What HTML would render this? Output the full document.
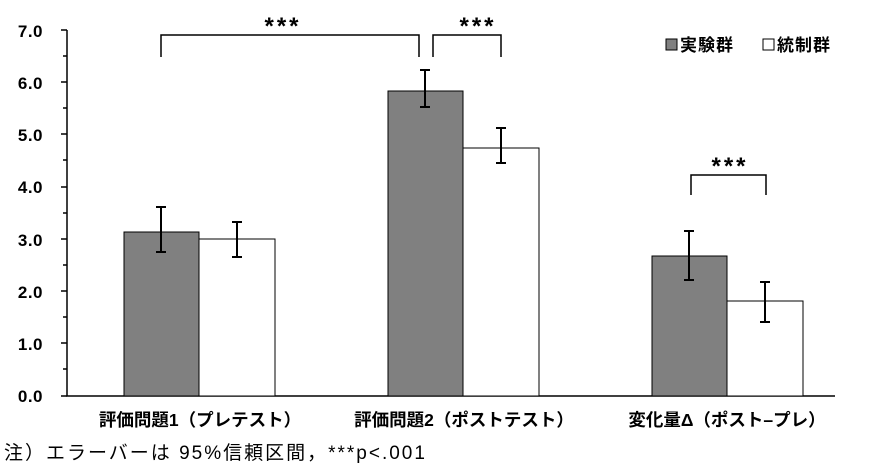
<!DOCTYPE html><html><head><meta charset="utf-8"><style>body{margin:0;background:#fff}svg{display:block}text{font-family:"Liberation Sans","Noto Sans CJK JP",sans-serif}</style></head><body>
<svg width="870" height="470" xmlns="http://www.w3.org/2000/svg">
<g font-size="17" font-weight="bold" text-anchor="end" fill="#000" letter-spacing="0.5">
<text x="43" y="37">7.0</text><text x="43" y="89">6.0</text><text x="43" y="141">5.0</text><text x="43" y="193">4.0</text><text x="43" y="246">3.0</text><text x="43" y="298">2.0</text><text x="43" y="350">1.0</text><text x="43" y="402">0.0</text></g>
<g stroke="#000" stroke-width="1.5" fill="none">
<path d="M67 30V396H835"/>
<path d="M61 30H67M61 82H67M61 134H67M61 187H67M61 239H67M61 291H67M61 343H67M61 396H67"/>
<path d="M63 56H67M63 108H67M63 160H67M63 213H67M63 265H67M63 317H67M63 369H67"/>
</g>
<g stroke="#000" stroke-width="1">
<rect x="124" y="232" width="75" height="164" fill="#808080"/>
<rect x="199" y="239" width="76" height="157" fill="#fff"/>
<rect x="388" y="91" width="75" height="305" fill="#808080"/>
<rect x="463" y="148" width="76" height="248" fill="#fff"/>
<rect x="652" y="256" width="75" height="140" fill="#808080"/>
<rect x="727" y="301" width="76" height="95" fill="#fff"/>
</g>
<g stroke="#000" stroke-width="2" fill="none">
<path d="M161 207V252M156 207H166M156 252H166"/>
<path d="M237 222V257M232 222H242M232 257H242"/>
<path d="M425 70V107M420 70H430M420 107H430"/>
<path d="M501 128V163M496 128H506M496 163H506"/>
<path d="M689 231V280M684 231H694M684 280H694"/>
<path d="M765 282V322M760 282H770M760 322H770"/>
</g>
<g stroke="#000" stroke-width="1.5" fill="none">
<path d="M161 57V35H419V57"/>
<path d="M433 57V35H501V57"/>
<path d="M691 195V175H766V195"/>
</g>
<g font-size="24" font-weight="bold" text-anchor="middle" letter-spacing="3">
<text x="283" y="34">***</text><text x="478" y="34">***</text><text x="730" y="174">***</text></g>
<rect x="666" y="39" width="11" height="11" fill="#808080" stroke="#000"/>
<rect x="763" y="39" width="11" height="11" fill="#fff" stroke="#000"/>
<g font-size="17" font-weight="bold" letter-spacing="1"><text x="680" y="51">実験群</text><text x="777" y="51">統制群</text></g>
<g font-size="17.5" font-weight="bold" text-anchor="middle">
<text x="200" y="426">評価問題1（プレテスト）</text>
<text x="464" y="426">評価問題2（ポストテスト）</text>
<text x="727" y="426">変化量Δ（ポスト–プレ）</text></g>
<text x="4" y="459" font-size="19" letter-spacing="2">注）エラーバーは 95%信頼区間，***p&lt;.001</text>
</svg></body></html>
